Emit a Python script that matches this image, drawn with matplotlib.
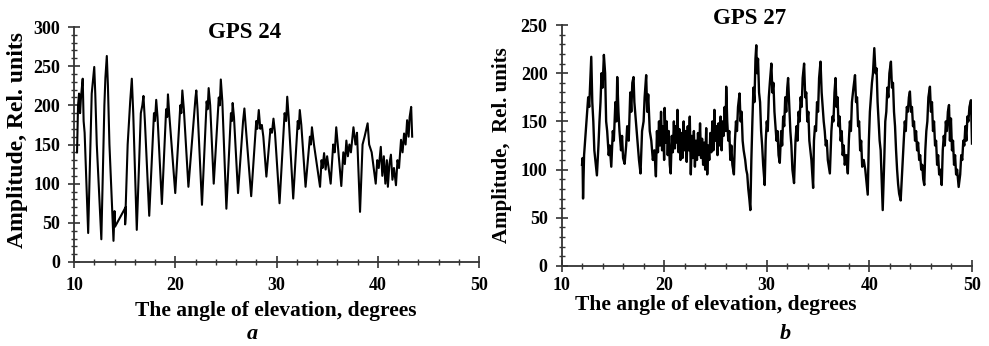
import numpy as np
import matplotlib
matplotlib.use("Agg")
import matplotlib.pyplot as plt
from matplotlib.ticker import MultipleLocator

plt.rcParams['font.family'] = ['Liberation Serif', 'DejaVu Serif']
plt.rcParams['font.weight'] = 'bold'

# -----------------------------
# GPS 24 (panel a): angle, amplitude
# -----------------------------
gps24_angle = [10.3, 10.4, 10.5, 10.6, 10.7, 10.86, 10.95, 11.05, 11.4, 11.75,
               12.0, 12.1, 12.25, 12.7, 13.0, 13.1, 13.24, 13.35, 13.5, 13.9,
               14.0, 14.05, 15.1, 15.05, 15.3, 15.55, 15.71, 15.85, 16.2, 16.6,
               16.75, 16.86, 17.0, 17.43, 17.9, 18.0, 18.12, 18.25, 18.68, 19.1,
               19.2, 19.28, 19.4, 20.0, 20.5, 20.6, 20.7, 20.85, 21.3, 21.9,
               22.0, 22.08, 22.2, 22.64, 23.1, 23.2, 23.3, 23.45, 23.8, 24.3,
               24.4, 24.5, 24.65, 25.05, 25.5, 25.6, 25.67, 25.8, 26.2, 26.7,
               26.83, 26.95, 27.5, 28.0, 28.1, 28.25, 28.4, 28.55, 28.7, 29.0,
               29.4, 29.55, 29.7, 29.85, 30.3, 30.8, 30.95, 31.06, 31.2, 31.65,
               32.1, 32.2, 32.3, 32.45, 32.87, 33.3, 33.4, 33.5, 33.7, 34.3,
               34.45, 34.55, 34.7, 34.85, 35.0, 35.35, 35.6, 35.75, 35.9, 36.05,
               36.4, 36.6, 36.75, 36.9, 37.05, 37.2, 37.35, 37.6, 37.8, 37.95,
               38.25, 38.5, 38.7, 39.0, 39.15, 39.4, 39.6, 39.8, 39.95, 40.1,
               40.3, 40.45, 40.6, 40.75, 40.9, 41.0, 41.15, 41.3, 41.45, 41.6,
               41.8, 41.95, 42.1, 42.3, 42.45, 42.6, 42.75, 42.9, 43.05, 43.15,
               43.3, 43.4]
gps24_amp = [140, 200, 215, 190, 212, 234, 180, 165, 37, 215,
             249, 215, 150, 29, 200, 235, 263, 225, 150, 27,
             65, 45, 70, 48, 150, 205, 234, 190, 41, 190,
             200, 212, 180, 59, 190, 180, 207, 185, 74, 195,
             185, 214, 190, 88, 200, 190, 219, 195, 96, 195,
             210, 219, 195, 73, 205, 195, 222, 200, 100, 210,
             200, 233, 205, 68, 190, 180, 203, 185, 88, 180,
             196, 175, 84, 180, 170, 194, 170, 175, 160, 109,
             170, 165, 183, 165, 75, 190, 180, 211, 185, 81,
             180, 170, 194, 175, 96, 160, 150, 172, 150, 96,
             130, 120, 139, 118, 135, 100, 150, 140, 172, 150,
             97, 140, 125, 155, 135, 150, 140, 172, 150, 165,
             64, 150, 160, 177, 150, 140, 120, 100, 130, 120,
             147, 110, 135, 100, 130, 96, 125, 137, 105, 120,
             98, 130, 120, 156, 140, 164, 150, 181, 160, 185,
             198, 160]

# -----------------------------
# GPS 27 (panel b): angle, amplitude
# -----------------------------
gps27_angle = [12.0, 12.05, 12.1, 12.2, 12.3, 12.4, 12.5, 12.6, 12.7, 12.8,
               12.9, 13.0, 13.1, 13.2, 13.3, 13.45, 13.6, 13.7, 13.8, 13.9,
               14.0, 14.13, 14.25, 14.35, 14.45, 14.6, 14.7, 14.85, 15.0, 15.1,
               15.25, 15.35, 15.43, 15.55, 15.65, 15.8, 15.9, 16.0, 16.15, 16.3,
               16.4, 16.55, 16.7, 16.8, 16.9, 17.02, 17.1, 17.25, 17.4, 17.55,
               17.7, 17.85, 18.0, 18.1, 18.25, 18.35, 18.45, 18.6, 18.75, 18.9,
               19.05, 19.2, 19.3, 19.4, 19.5, 19.6, 19.7, 19.8, 19.9, 20.0,
               20.05, 20.15, 20.25, 20.35, 20.45, 20.55, 20.64, 20.75, 20.85, 20.95,
               21.05, 21.15, 21.25, 21.3, 21.4, 21.5, 21.6, 21.7, 21.8, 21.9,
               22.0, 22.1, 22.2, 22.3, 22.4, 22.5, 22.6, 22.7, 22.8, 22.9,
               23.0, 23.1, 23.2, 23.3, 23.4, 23.5, 23.6, 23.7, 23.8, 23.9,
               24.0, 24.1, 24.2, 24.3, 24.4, 24.5, 24.6, 24.7, 24.8, 24.9,
               25.0, 25.1, 25.2, 25.3, 25.4, 25.5, 25.6, 25.7, 25.8, 25.9,
               26.0, 26.05, 26.15, 26.25, 26.35, 26.45, 26.55, 26.65, 26.8, 26.9,
               27.0, 27.1, 27.2, 27.35, 27.45, 27.55, 27.65, 27.75, 27.9, 28.0,
               28.1, 28.2, 28.3, 28.4, 28.5, 28.6, 28.7, 28.8, 28.9, 28.98,
               29.05, 29.15, 29.25, 29.35, 29.45, 29.55, 29.65, 29.8, 29.9, 30.0,
               30.1, 30.2, 30.3, 30.45, 30.55, 30.65, 30.75, 30.85, 30.95, 31.05,
               31.15, 31.27, 31.4, 31.5, 31.6, 31.7, 31.8, 31.9, 32.0, 32.08,
               32.2, 32.3, 32.4, 32.5, 32.66, 32.8, 32.9, 33.0, 33.1, 33.2,
               33.3, 33.4, 33.5, 33.64, 33.75, 33.85, 33.95, 34.05, 34.15, 34.25,
               34.35, 34.52, 34.6, 34.7, 34.8, 34.9, 35.0, 35.1, 35.24, 35.35,
               35.45, 35.55, 35.65, 35.75, 35.85, 35.95, 36.15, 36.3, 36.4, 36.5,
               36.6, 36.7, 36.8, 36.9, 37.0, 37.1, 37.2, 37.3, 37.4, 37.5,
               37.6, 37.75, 37.9, 38.0, 38.1, 38.2, 38.3, 38.45, 38.6, 38.7,
               38.8, 38.9, 39.0, 39.1, 39.2, 39.3, 39.45, 39.6, 39.84, 39.95,
               40.05, 40.15, 40.25, 40.35, 40.48, 40.6, 40.7, 40.8, 40.9, 41.0,
               41.1, 41.2, 41.3, 41.45, 41.55, 41.65, 41.75, 41.85, 41.95, 42.1,
               42.2, 42.3, 42.4, 42.5, 42.6, 42.7, 42.8, 42.9, 43.05, 43.2,
               43.35, 43.45, 43.55, 43.65, 43.75, 43.85, 43.95, 44.05, 44.15, 44.25,
               44.35, 44.45, 44.55, 44.65, 44.75, 44.85, 44.95, 45.05, 45.15, 45.25,
               45.35, 45.45, 45.55, 45.65, 45.75, 45.9, 46.0, 46.1, 46.2, 46.3,
               46.4, 46.5, 46.6, 46.7, 46.8, 46.9, 47.05, 47.15, 47.25, 47.35,
               47.45, 47.55, 47.65, 47.76, 47.85, 47.95, 48.05, 48.15, 48.25, 48.35,
               48.45, 48.55, 48.7, 48.85, 48.95, 49.05, 49.15, 49.25, 49.35, 49.45,
               49.55, 49.65, 49.75, 49.9, 50.0]
gps27_amp = [105, 112, 70, 115, 130, 145, 160, 175, 165, 190,
             217, 170, 150, 120, 110, 94, 125, 150, 170, 200,
             185, 219, 200, 150, 140, 115, 125, 103, 140, 130,
             170, 150, 196, 160, 140, 120, 135, 112, 106, 125,
             145, 130, 180, 160, 190, 196, 170, 150, 130, 110,
             96, 140, 150, 175, 198, 160, 178, 140, 130, 110,
             120, 93, 140, 118, 150, 125, 160, 120, 145, 110,
             164, 128, 150, 115, 140, 105, 96, 135, 118, 150,
             122, 145, 128, 162, 118, 142, 110, 138, 112, 150,
             120, 140, 108, 145, 120, 155, 95, 135, 112, 140,
             103, 130, 110, 138, 115, 148, 112, 132, 105, 128,
             100, 143, 95, 125, 110, 138, 118, 150, 120, 162,
             130, 145, 115, 148, 125, 155, 120, 150, 135, 165,
             140, 186, 150, 130, 140, 110, 125, 105, 95, 130,
             150, 140, 165, 179, 150, 160, 130, 120, 110, 100,
             95, 80, 70, 58, 110, 150, 185, 170, 215, 229,
             200, 215, 180, 170, 140, 125, 105, 84, 130, 150,
             140, 175, 190, 210, 180, 190, 160, 145, 130, 140,
             115, 107, 140, 125, 155, 145, 175, 160, 185, 195,
             165, 140, 125, 100, 86, 130, 145, 130, 160, 150,
             175, 165, 195, 210, 175, 180, 150, 160, 130, 120,
             110, 81, 130, 145, 140, 170, 160, 195, 212, 180,
             165, 150, 140, 125, 130, 110, 96, 140, 155, 150,
             180, 195, 165, 175, 145, 155, 130, 140, 115, 125,
             105, 115, 96, 130, 150, 140, 170, 185, 198, 170,
             175, 145, 150, 120, 130, 103, 110, 100, 74, 130,
             160, 175, 190, 200, 226, 200, 205, 170, 150, 130,
             120, 90, 58, 110, 150, 160, 185, 175, 200, 212,
             185, 190, 160, 145, 120, 100, 85, 75, 68, 100,
             130, 150, 140, 165, 160, 175, 181, 160, 165, 145,
             150, 130, 140, 120, 128, 110, 115, 100, 105, 90,
             84, 120, 140, 150, 175, 186, 160, 170, 140, 150,
             125, 130, 105, 115, 95, 100, 84, 120, 135, 125,
             150, 140, 160, 167, 130, 153, 120, 130, 105, 115,
             95, 100, 82, 95, 115, 110, 130, 125, 145, 130,
             155, 150, 165, 172, 127]

W, H = 989, 346
fig = plt.figure(figsize=(W / 100, H / 100), dpi=100)
ax1 = fig.add_axes([74 / W, 1 - 262 / H, 405 / W, 235 / H])
ax2 = fig.add_axes([561.5 / W, 1 - 266 / H, 410.5 / W, 241 / H])

def style_axis(ax, ymax, xpad):
    ax.set_xlim(10, 50)
    ax.set_ylim(0, ymax)
    ax.xaxis.set_major_locator(MultipleLocator(10))
    ax.xaxis.set_minor_locator(MultipleLocator(2))
    ax.yaxis.set_major_locator(MultipleLocator(50))
    ax.yaxis.set_minor_locator(MultipleLocator(10))
    ax.spines['top'].set_visible(False)
    ax.spines['right'].set_visible(False)
    for s in ['left', 'bottom']:
        ax.spines[s].set_linewidth(1.3)
        ax.spines[s].set_color('#333333')
    ax.tick_params(which='major', direction='inout', length=8, width=1.2,
                   color='#333333', labelsize=13)
    ax.tick_params(which='minor', direction='inout', length=5, width=1.0,
                   color='#333333')
    ax.tick_params(axis='x', pad=xpad)
    ax.tick_params(axis='y', pad=6)
    for lab in ax.get_xticklabels() + ax.get_yticklabels():
        lab.set_fontweight('bold')

def txt(x, y, s, **kw):
    fig.text(x / W, 1 - y / H, s, ha='center', va='center', fontweight='bold', **kw)

# panel a
ax1.plot(gps24_angle, gps24_amp, color='black', lw=1.5)
style_axis(ax1, 300, 7)
txt(276, 311, "The angle of elevation, degrees", fontsize=15.5)
txt(18, 140, "Amplitude, Rel. units", fontsize=17, rotation=90)
txt(245, 32, "GPS 24", fontsize=16.5)
txt(252, 334, "a", fontsize=16, style='italic')

# panel b
ax2.plot(gps27_angle, gps27_amp, color='black', lw=1.7)
style_axis(ax2, 250, 4)
txt(716, 305, "The angle of elevation, degrees", fontsize=15.5)
txt(502, 145, "Amplitude,  Rel. units", fontsize=15, rotation=90)
txt(750, 19, "GPS 27", fontsize=16.5)
txt(785, 334, "b", fontsize=16, style='italic')

fig.savefig("out.png", dpi=100)
